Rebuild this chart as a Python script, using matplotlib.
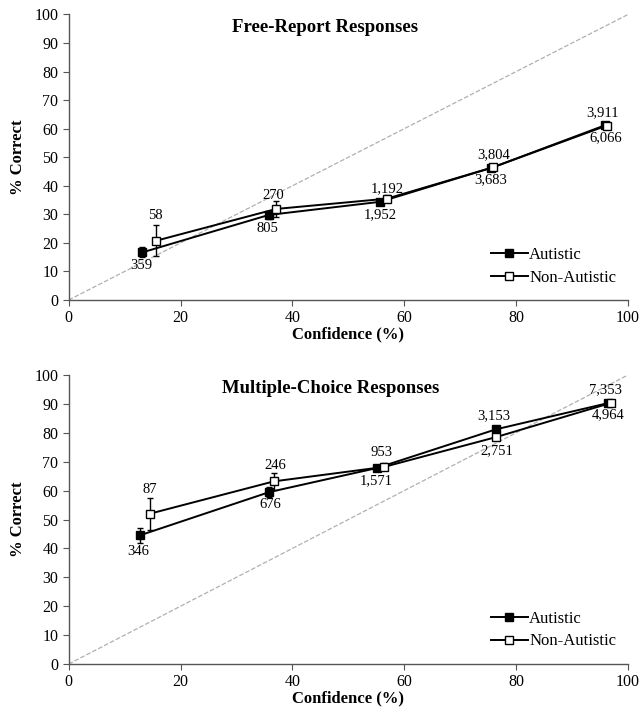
import numpy as np
import matplotlib.pyplot as plt
from matplotlib.lines import Line2D

plt.rcParams['font.family'] = ['Liberation Serif', 'DejaVu Serif']

# Free-report panel
fr_aut_x = [13.2, 35.8, 55.7, 75.6, 95.9]
fr_aut_y = [16.7, 29.8, 34.4, 46.3, 61.2]
fr_aut_err = [1.8, 1.5, 0.8, 0.6, 0.5]
fr_non_x = [15.7, 37.1, 56.9, 75.9, 96.2]
fr_non_y = [20.8, 31.9, 35.5, 46.5, 61.1]
fr_non_err = [5.3, 2.9, 1.3, 0.7, 0.5]
fr_above = ['58', '270', '1,192', '3,804', '3,911']
fr_below = ['359', '805', '1,952', '3,683', '6,066']

# Multiple-choice panel
mc_aut_x = [12.7, 35.9, 55.1, 76.4, 96.5]
mc_aut_y = [44.5, 59.5, 67.8, 81.2, 90.3]
mc_aut_err = [2.7, 1.6, 0.9, 0.8, 0.5]
mc_non_x = [14.5, 36.7, 56.4, 76.4, 96.9]
mc_non_y = [52.0, 63.2, 68.2, 78.5, 90.3]
mc_non_err = [5.5, 3.0, 1.2, 0.9, 0.5]
mc_above = ['87', '246', '953', '3,153', '7,353']
mc_below = ['346', '676', '1,571', '2,751', '4,964']


def draw_panel(ax, title, title_x, ax_x, ax_y, ax_e, nx, ny, ne, above, below, ann_pos):
    ax.plot([0, 100], [0, 100], linestyle='--', color='#b0b0b0', linewidth=0.9, zorder=1)
    ax.errorbar(ax_x, ax_y, yerr=ax_e, color='black', marker='s', markersize=5.5,
                markerfacecolor='black', markeredgecolor='black', linewidth=1.4,
                capsize=2.5, elinewidth=1.0, zorder=3)
    ax.errorbar(nx, ny, yerr=ne, color='black', marker='s', markersize=5.5,
                markerfacecolor='white', markeredgecolor='black', linewidth=1.4,
                capsize=2.5, elinewidth=1.0, zorder=4)
    for (xa, ya, xb, yb), a, b in zip(ann_pos, above, below):
        ax.text(xa, ya, a, ha='center', va='bottom', fontsize=10.5)
        ax.text(xb, yb, b, ha='center', va='top', fontsize=10.5)
    ax.set_xlim(0, 100)
    ax.set_ylim(0, 100)
    ax.set_xticks(np.arange(0, 101, 20))
    ax.set_yticks(np.arange(0, 101, 10))
    ax.spines['top'].set_visible(False)
    ax.spines['right'].set_visible(False)
    for s in ('left', 'bottom'):
        ax.spines[s].set_color('#555555')
        ax.spines[s].set_linewidth(1.0)
    ax.tick_params(direction='out', length=4, color='#555555', labelsize=11.5)
    ax.set_xlabel('Confidence (%)', fontsize=12, fontweight='bold', labelpad=0)
    ax.set_ylabel('% Correct', fontsize=12, fontweight='bold', labelpad=6)
    ax.text(title_x, 0.953, title, transform=ax.transAxes, ha='center', va='center',
            fontsize=13.5, fontweight='bold')
    handles = [
        Line2D([], [], color='black', marker='s', markersize=5.5, linewidth=1.4,
               markerfacecolor='black', label='Autistic'),
        Line2D([], [], color='black', marker='s', markersize=5.5, linewidth=1.4,
               markerfacecolor='white', label='Non-Autistic'),
    ]
    ax.legend(handles=handles, loc='lower right', frameon=False, fontsize=12,
              handlelength=2.2, handletextpad=0.1, borderaxespad=0.3,
              labelspacing=0.4, bbox_to_anchor=(1.0, 0.01))


fig = plt.figure(figsize=(6.43, 7.14), dpi=100)
ax1 = fig.add_axes([0.1068, 0.5798, 0.8698, 0.3999])
ax2 = fig.add_axes([0.1068, 0.0700, 0.8698, 0.4048])

fr_pos = [(15.5, 27.5, 13.0, 14.5), (36.5, 34.5, 35.5, 27.5), (57.0, 36.8, 55.7, 32.3),
          (76.0, 48.5, 75.5, 44.3), (95.5, 63.5, 96.0, 59.0)]
mc_pos = [(14.5, 58.0, 12.5, 41.2), (37.0, 66.3, 36.0, 57.3), (56.0, 71.0, 55.0, 65.6),
          (76.0, 83.8, 76.5, 76.0), (96.0, 92.5, 96.5, 88.4)]

draw_panel(ax1, 'Free-Report Responses', 0.459, fr_aut_x, fr_aut_y, fr_aut_err,
           fr_non_x, fr_non_y, fr_non_err, fr_above, fr_below, fr_pos)
draw_panel(ax2, 'Multiple-Choice Responses', 0.468, mc_aut_x, mc_aut_y, mc_aut_err,
           mc_non_x, mc_non_y, mc_non_err, mc_above, mc_below, mc_pos)

fig.savefig('out.png', dpi=100)
